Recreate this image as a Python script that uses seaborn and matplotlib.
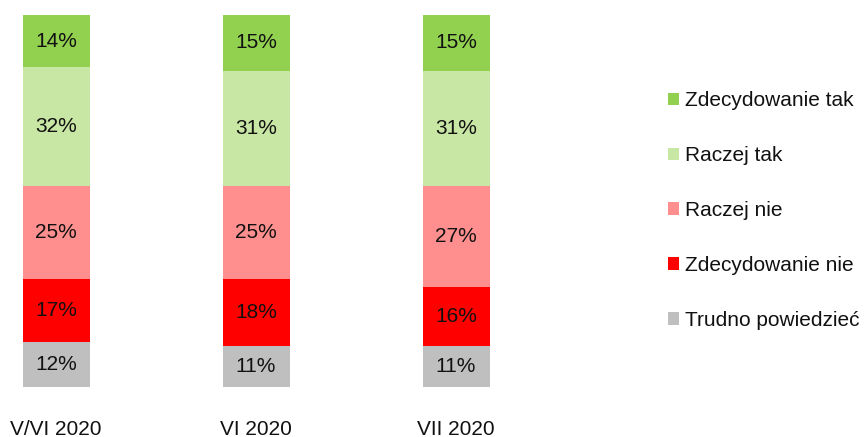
import numpy as np
import pandas as pd
import matplotlib
matplotlib.use('Agg')
import matplotlib.pyplot as plt
from matplotlib.patches import Patch
import seaborn as sns

sns.set_theme(style='white')
plt.rcParams['font.family'] = ['Liberation Sans', 'DejaVu Sans']

# data
periods = ['V/VI 2020', 'VI 2020', 'VII 2020']
answers = ['Zdecydowanie tak', 'Raczej tak', 'Raczej nie', 'Zdecydowanie nie', 'Trudno powiedzieć']
zdecydowanie_tak = [14, 15, 15]
raczej_tak = [32, 31, 31]
raczej_nie = [25, 25, 27]
zdecydowanie_nie = [17, 18, 16]
trudno = [12, 11, 11]
colors = ['#92D050', '#C8E6A4', '#FF8F8F', '#FF0000', '#BFBFBF']

df = pd.DataFrame({
    'okres': periods,
    'Zdecydowanie tak': zdecydowanie_tak,
    'Raczej tak': raczej_tak,
    'Raczej nie': raczej_nie,
    'Zdecydowanie nie': zdecydowanie_nie,
    'Trudno powiedzieć': trudno,
})

fig = plt.figure(figsize=(8.65, 4.37), dpi=100)
ax = fig.add_axes([0, 50 / 437, 560 / 865, 372 / 437])

# stack from the bottom (Trudno) upward, draw tallest cumulative first
stack_order = answers[::-1]
cum = df[stack_order].cumsum(axis=1)
for i in range(len(stack_order) - 1, -1, -1):
    name = stack_order[i]
    col = colors[answers.index(name)]
    sns.barplot(x=df['okres'], y=cum[name], color=col, width=0.335,
                saturation=1, ax=ax, linewidth=0, errorbar=None)

# percentage labels in the middle of each segment
for j in range(len(periods)):
    base = 0
    for name in stack_order:
        v = df.loc[j, name]
        ax.text(j, base + v / 2, f'{v}%', ha='center', va='center',
                fontsize=15, color='#111111')
        base += v

ax.set_xlim(-0.28, 2.52)
ax.set_ylim(0, 100)
ax.set_xlabel('')
ax.set_ylabel('')
ax.set_yticks([])
ax.tick_params(axis='x', length=0, pad=23.5, labelsize=15, colors='#111111')
sns.despine(ax=ax, left=True, bottom=True)

handles = [Patch(facecolor=c, edgecolor='none') for c in colors]
ax.legend(handles, answers, loc='center left', bbox_to_anchor=(668 / 865, 0.518),
          bbox_transform=fig.transFigure, frameon=False, fontsize=15,
          handlelength=0.55, handleheight=0.55, handletextpad=0.25,
          labelspacing=1.72, borderpad=0, borderaxespad=0, labelcolor='#111111')

fig.savefig('out.png', dpi=100)
